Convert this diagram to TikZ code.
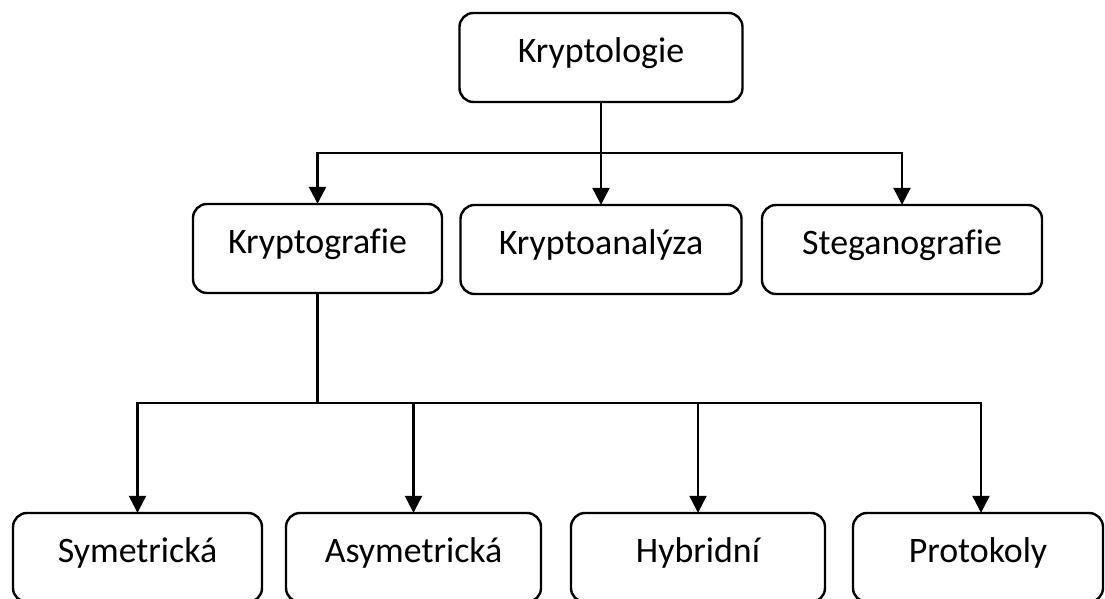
\documentclass[tikz,border=0pt]{standalone}
\usepackage{fontspec}
\setmainfont{Carlito}[Ligatures=NoCommon]
\usetikzlibrary{arrows.meta}

\tikzset{
  box/.style={draw, line width=2.4bp, rounded corners=14bp, inner sep=0pt,
    minimum height=89bp, text height=20bp, text depth=10bp,
    font=\fontsize{36}{42}\selectfont},
  link/.style={line width=2.4bp},
  arrowlink/.style={link, -{Triangle[length=17bp,width=17bp]}, shorten >=-1bp},
}

\begin{document}
\begin{tikzpicture}[x=1bp, y=-1bp]
  \path[use as bounding box, clip] (0,0) rectangle (1105,599);

  % root
  \node[box, minimum width=283bp] (root) at (601,57.5) {Kryptologie};

  % second level
  \node[box, minimum width=249bp] (graf) at (317.5,248.5) {Kryptografie};
  \node[box, minimum width=281bp] (anal) at (601,249.5) {Kryptoanalýza};
  \node[box, minimum width=280bp] (steg) at (902,249.5) {Steganografie};

  % third level (cut by the page edge)
  \node[box, minimum width=249bp] (sym) at (137.5,557.5) {Symetrická};
  \node[box, minimum width=255bp] (asym) at (413.5,557.5) {Asymetrická};
  \node[box, minimum width=254bp] (hyb) at (698,557.5) {Hybridní};
  \node[box, minimum width=250bp] (prot) at (978,557.5) {Protokoly};

  % junction points
  \coordinate (j1) at (root.south |- 0,153);
  \coordinate (j2) at (graf.south |- 0,403);

  % connectors from the root
  \draw[link] (root.south) -- (j1);
  \draw[arrowlink] (j1) -| (graf.north);
  \draw[arrowlink] (j1) -- (anal.north);
  \draw[arrowlink] (j1) -| (steg.north);

  % connectors from Kryptografie
  \draw[link] (graf.south) -- (j2);
  \draw[arrowlink] (j2) -| (sym.north);
  \draw[arrowlink] (j2) -| (asym.north);
  \draw[arrowlink] (j2) -| (hyb.north);
  \draw[arrowlink] (j2) -| ([xshift=3bp]prot.north);
\end{tikzpicture}
\end{document}
